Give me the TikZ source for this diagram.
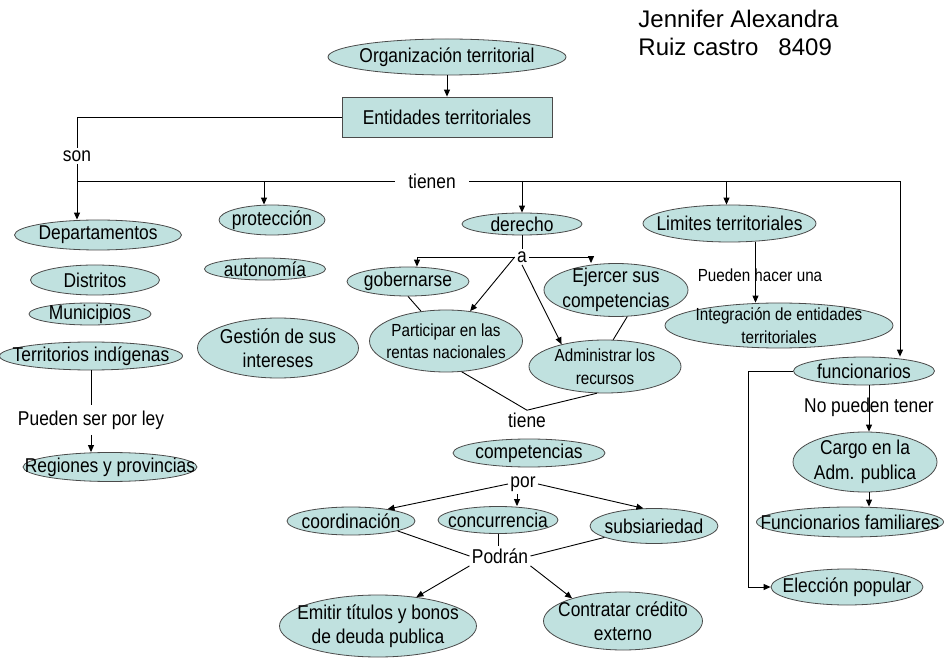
\documentclass[tikz,border=0pt]{standalone}
\usepackage{fontspec}
\setmainfont{Liberation Sans}
\newfontfamily\cmfont[FakeStretch=0.87]{Liberation Sans}
\usetikzlibrary{arrows.meta,shapes.geometric,positioning}
\definecolor{CMteal}{HTML}{C0E1DF}
\definecolor{CMline}{HTML}{4A4A4A}
\tikzset{
  concepto/.style={ellipse, draw=CMline, fill=CMteal, line width=0.8pt, inner xsep=-80pt, inner ysep=-40pt,
    align=center, font={\cmfont\fontsize{20}{24.5}\selectfont}},
  fino/.style={font={\cmfont\fontsize{17.5}{22.5}\selectfont}},
  caja/.style={rectangle, draw=CMline, fill=CMteal, line width=0.8pt, minimum width=210pt, minimum height=40pt,
    font={\cmfont\fontsize{20}{24.5}\selectfont}},
  enlace/.style={fill=white, inner sep=2pt, font={\cmfont\fontsize{20}{24.5}\selectfont}},
  nota/.style={inner sep=2pt, font={\cmfont\fontsize{20}{24.5}\selectfont}},
  flecha/.style={-{Triangle[length=7pt,width=6pt]}},
}

\begin{document}
\begin{tikzpicture}[x=1pt,y=-1pt,line width=0.9pt]
  \useasboundingbox (0,0) rectangle (951,660);
  % autora
  \node[anchor=base west, inner sep=0, font=\fontsize{24}{28}\selectfont] (autor1) at (638,28) {Jennifer Alexandra};
  \node[anchor=base west, inner sep=0, font=\fontsize{24}{28}\selectfont] (autor2) at (638,56) {Ruiz castro\ \ \ 8409};
  % cabecera
  \node[concepto, minimum width=238pt, minimum height=36pt] (orga) at (447,57) {Organización territorial};
  \node[caja] (entidades) at (447,117) {Entidades territoriales};
  \node[enlace] (son) at (77,156) {son};
  \node[enlace, inner xsep=13pt] (tienen) at (432,181) {tienen};
  \coordinate (tl) at (77,181);
  \coordinate (tr) at (900,181);
  % columna izquierda
  \node[concepto, minimum width=167pt, minimum height=30pt] (departamentos) at (98,235) {Departamentos};
  \node[concepto, minimum width=129pt, minimum height=30pt] (distritos) at (95,280) {Distritos};
  \node[concepto, minimum width=122pt, minimum height=22pt] (municipios) at (90,314) {Municipios};
  \node[concepto, minimum width=183pt, minimum height=28pt] (territorios) at (91,356) {Territorios indígenas};
  \node[enlace, inner ysep=5pt] (ley) at (91,420) {Pueden ser por ley};
  \node[concepto, minimum width=174pt, minimum height=29pt] (regiones) at (110,467) {Regiones y provincias};
  \node[concepto, minimum width=106pt, minimum height=30pt] (proteccion) at (272,220) {protección};
  \node[concepto, minimum width=121pt, minimum height=22pt] (autonomia) at (265,269) {autonomía};
  \node[concepto, minimum width=161pt, minimum height=60pt] (gestion) at (278,348) {Gestión de sus\\intereses};
  % derecho
  \node[concepto, minimum width=120pt, minimum height=22pt] (derecho) at (522,224) {derecho};
  \node[enlace] (a) at (522,257) {a};
  \node[concepto, minimum width=122pt, minimum height=29pt] (gobernarse) at (408,281.5) {gobernarse};
  \node[concepto, minimum width=144pt, minimum height=53pt] (ejercer) at (616,290) {Ejercer sus\\competencias};
  \node[concepto, fino, minimum width=153pt, minimum height=62pt] (participar) at (446,341) {Participar en las\\rentas nacionales};
  \node[concepto, fino, minimum width=152pt, minimum height=53pt] (administrar) at (605,366.5) {Administrar los\\recursos};
  \node[nota] (tiene) at (527,420) {tiene};
  \node[concepto, minimum width=152pt, minimum height=28pt] (competencias) at (529,453) {competencias};
  \node[enlace] (por) at (523,484) {por};
  \node[concepto, minimum width=128pt, minimum height=28pt] (coordinacion) at (351,521) {coordinación};
  \node[concepto, minimum width=120pt, minimum height=27pt] (concurrencia) at (498,520) {concurrencia};
  \node[concepto, minimum width=128pt, minimum height=35pt] (subsiariedad) at (654,526) {subsiariedad};
  \node[enlace] (podran) at (500,556) {Podrán};
  \node[concepto, minimum width=197pt, minimum height=62pt] (emitir) at (378,626) {Emitir títulos y bonos\\de deuda publica};
  \node[concepto, minimum width=159pt, minimum height=58pt] (contratar) at (623,621) {Contratar crédito\\externo};
  % limites y funcionarios
  \node[concepto, minimum width=173pt, minimum height=37pt] (limites) at (729.5,223.5) {Limites territoriales};
  \node[nota, fino] (hacer) at (760,275) {Pueden hacer una};
  \node[concepto, fino, minimum width=228pt, minimum height=45pt] (integracion) at (779,325.5) {Integración de entidades\\territoriales};
  \node[concepto, minimum width=141pt, minimum height=28pt] (funcionarios) at (864,371) {funcionarios};
  \node[nota] (notener) at (869,407) {No pueden tener};
  \node[concepto, minimum width=144pt, minimum height=60pt] (cargo) at (865,462) {Cargo en la\\Adm. publica};
  \node[concepto, minimum width=187pt, minimum height=30pt] (familiares) at (850,522) {Funcionarios familiares};
  \node[concepto, minimum width=152pt, minimum height=36pt] (eleccion) at (847,587) {Elección popular};
  \coordinate (fl) at (748,371);

  \draw[flecha] (orga) -- (entidades);
  \draw (entidades.west) -| (son.north);
  \draw[flecha] (son.south) -- (son.south |- departamentos.north);
  \draw (tl) -- (tienen.west);
  \draw[flecha] (tienen.east) -- (tr) -- (tr |- funcionarios.north);
  \draw[flecha] ([xshift=-8pt]proteccion.north |- tl) -- ([xshift=-8pt]proteccion.north);
  \draw[flecha] (derecho.north |- tl) -- (derecho.north);
  \draw[flecha] ([xshift=-3pt]limites.north |- tl) -- ([xshift=-3pt]limites.north);
  \draw (territorios) -- (ley);
  \draw[flecha] (ley.south) -- (ley.south |- regiones.north);
  % derecho a
  \draw (derecho) -- (a);
  \draw[flecha] (a.west) -| ([xshift=9pt]gobernarse.north);
  \draw[flecha] (a.east) -| ([xshift=-25pt]ejercer.north);
  \draw[flecha] (a.west) -- (participar.51);
  \draw[flecha] (a.south) -- (administrar.153);
  \draw (gobernarse.south) -- (participar.130);
  \draw (ejercer.-67) -- (administrar.73);
  \draw (participar.-63) -- (tiene.north) -- (administrar.-107);
  % competencias
  \draw[flecha] (por.west) -- (coordinacion.18);
  \draw[flecha] ([xshift=-6pt]por.south) -- ([xshift=-6pt]por.south |- concurrencia.north);
  \draw[flecha] (por.east) -- (subsiariedad.121);
  \draw (coordinacion.-12) -- (podran.west);
  \draw (concurrencia.south) -- (concurrencia.south |- podran.north);
  \draw (subsiariedad.193) -- (podran.east);
  \draw[flecha] (podran.south west) -- (emitir.37);
  \draw[flecha] (podran.south east) -- (contratar.156);
  % limites, funcionarios
  \draw[flecha] ([xshift=26pt]limites.south) -- ([xshift=26pt]limites.south |- integracion.north);
  \draw[flecha] ([xshift=5pt]funcionarios.south) -- ([xshift=5pt]funcionarios.south |- cargo.north);
  \draw[flecha] ([xshift=4pt]cargo.south) -- ([xshift=4pt]cargo.south |- familiares.north);
  \draw[flecha] (funcionarios.west) -- (fl) |- (eleccion.west);
\end{tikzpicture}
\end{document}
